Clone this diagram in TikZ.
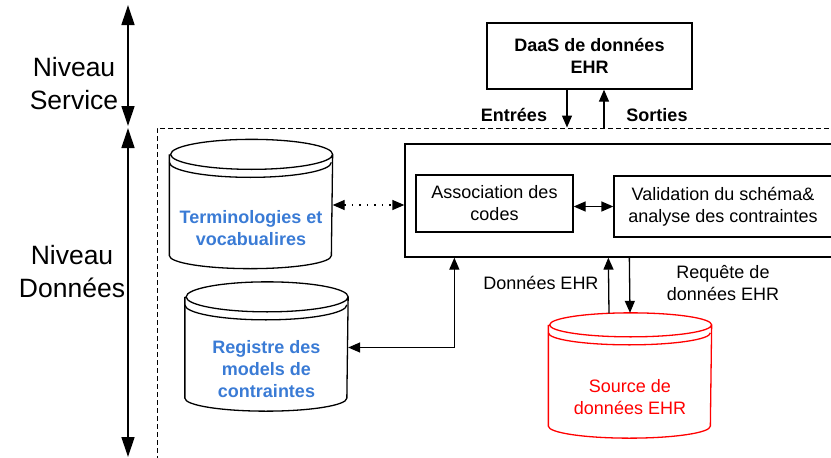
\documentclass[tikz,border=0pt]{standalone}
\usepackage{fontspec}
\setmainfont{Liberation Sans}
\usetikzlibrary{arrows.meta}
\definecolor{termblue}{RGB}{58,123,213}

\begin{document}
\begin{tikzpicture}[x = 1pt, y = -1pt, line width = 1.3pt,
    box/.style = {draw, inner sep = 0pt, align = center, font = \fontsize{18}{22}\selectfont},
    db/.style = {inner sep = 0pt, minimum width = 162pt, minimum height = 100pt},
    dbtext/.style = {align = center, font = \fontsize{18}{22}\selectfont\bfseries, text = termblue},
    txt/.style = {align = center, font = \fontsize{18}{22}\selectfont},
    level/.style = {align = center, font = \fontsize{26.5}{33}\selectfont},
    arr/.style = {-{Triangle[length = 12pt, width = 10pt]}},
    darr/.style = {{Triangle[length = 12pt, width = 10pt]}-{Triangle[length = 12pt, width = 10pt]}},
    bigarr/.style = {{Triangle[length = 20pt, width = 13pt]}-{Triangle[length = 20pt, width = 13pt]}}]
    \useasboundingbox (0, 0) rectangle (831, 458);

    % niveaux
    \coordinate (stop) at (128, 5);
    \coordinate (smid) at (128, 127);
    \coordinate (sbot) at (128, 457);
    \draw [bigarr] (stop)--([yshift = 1pt]smid);
    \draw [bigarr] ([yshift = -1pt]smid)--(sbot);
    \node (nserv) at (74, 84) [level] {Niveau\\Service};
    \node (ndonn) at (72, 272) [level] {Niveau\\Donn\'ees};

    % cadre du niveau donnees
    \node (donnees) at (503.5, 299) [draw, dash pattern = on 5pt off 3pt, line width = 1pt,
      minimum width = 693pt, minimum height = 342pt] {};

    % service
    \node (daas) at (589.5, 56) [box, font = \fontsize{18}{22}\selectfont\bfseries,
      minimum width = 205pt, minimum height = 66pt] {DaaS de donn\'ees\\EHR};
    \draw [arr] ([xshift = -22.5pt]daas.south)--([xshift = -22.5pt]daas.south |- donnees.north);
    \draw [arr] ([xshift = 14.5pt]daas.south |- donnees.north)--([xshift = 14.5pt]daas.south);
    \node (entrees) at (514, 115) [txt, font = \fontsize{18}{22}\selectfont\bfseries] {Entr\'ees};
    \node (sorties) at (657, 115) [txt, font = \fontsize{18}{22}\selectfont\bfseries] {Sorties};

    % traitement
    \node (proc) at (622.5, 200.5) [box, minimum width = 435pt, minimum height = 113pt] {};
    \node (assoc) at (494.5, 203.5) [box, minimum width = 157pt, minimum height = 57pt]
      {Association des\\codes};
    \node (valid) at (723, 206.5) [box, minimum width = 218pt, minimum height = 61pt]
      {Validation du sch\'ema\&\\analyse des contraintes};
    \draw [darr] (assoc.east |- valid.west)--(valid.west);

    % bases
    \node (termino) at (251, 205) [db] {};
    \node (registre) at (266.5, 347.5) [db] {};
    \node (source) at (630, 375.5) [db] {};
    \foreach \n/\c/\r/\b in {termino/black/15/13, registre/black/15/13, source/red/12/12} {
      \draw [\c] (\n.north west)--(\n.south west)
        arc [start angle = 180, end angle = 360, x radius = 81pt, y radius = \b pt]--(\n.north east)
        arc [start angle = 0, end angle = 360, x radius = 81pt, y radius = \r pt];
      \draw [\c] ([yshift = -8pt]\n.north west)
        arc [start angle = 180, end angle = 360, x radius = 81pt, y radius = \r pt];
    }
    \node (terminoT) at ([yshift = -23pt]termino.center) [dbtext] {Terminologies et\\vocabualires};
    \node (registreT) at ([yshift = -22pt]registre.center) [dbtext] {Registre des\\models de\\contraintes};
    \node (sourceT) at ([yshift = -22pt]source.center) [txt, text = red] {Source de\\donn\'ees EHR};

    % liens
    \draw [darr, dash pattern = on 1.5pt off 6pt] (termino.east)--(termino.east -| proc.west);
    \draw [darr] (registre.east)-|([xshift = 50pt]proc.south west);
    \draw [arr] ([xshift = -21pt, yshift = 11.5pt]source.north)--([xshift = 204pt]proc.south west);
    \draw [arr] ([xshift = 225pt]proc.south west)--([yshift = 12pt]source.north);
    \node (donEHR) at (541, 283) [txt] {Donn\'ees EHR};
    \node (requete) at (723, 283) [txt] {Requ\^ete de\\donn\'ees EHR};
  \end{tikzpicture}
\end{document}
